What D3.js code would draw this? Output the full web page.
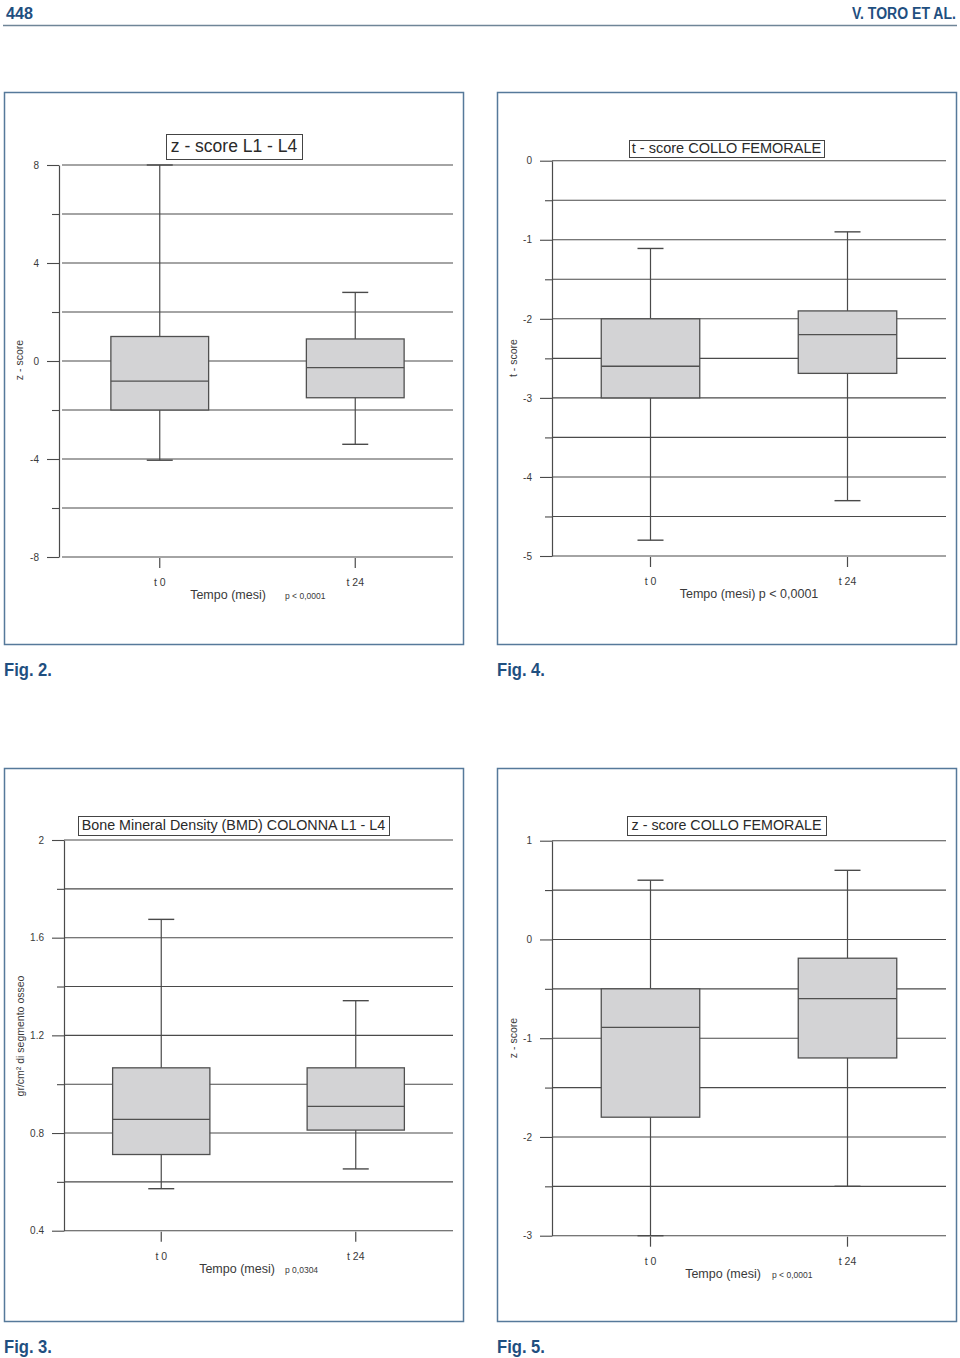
<!DOCTYPE html>
<html>
<head>
<meta charset="utf-8">
<script src="https://cdn.jsdelivr.net/npm/d3@7"></script>
<style>
  html, body { margin: 0; padding: 0; background: #fff; }
  svg { display: block; }
  text { font-family: "Liberation Sans", Arial, sans-serif; }
</style>
</head>
<body>
<svg id="page" width="960" height="1358"></svg>
<script>
// ---------- DATA ----------
const categories = ["t 0", "t 24"];

// [min, q1, median, q3, max] for t0 and t24
const fig2Stats = [[-4.05, -2.0, -0.82, 1.0, 8.0], [-3.4, -1.5, -0.27, 0.9, 2.8]];
const fig4Stats = [[-4.8, -3.0, -2.6, -2.0, -1.11], [-4.3, -2.69, -2.2, -1.9, -0.9]];
const fig3Stats = [[0.572, 0.712, 0.856, 1.067, 1.675], [0.653, 0.812, 0.909, 1.067, 1.342]];
const fig5Stats = [[-3.0, -1.8, -0.89, -0.5, 0.6], [-2.5, -1.2, -0.6, -0.19, 0.7]];

const fig2Ticks = [8, 4, 0, -4, -8];
const fig2Minor = [6, 2, -2, -6];
const fig4Ticks = [0, -1, -2, -3, -4, -5];
const fig4Minor = [-0.5, -1.5, -2.5, -3.5, -4.5];
const fig3Ticks = [2, 1.6, 1.2, 0.8, 0.4];
const fig3Minor = [1.8, 1.4, 1.0, 0.6];
const fig5Ticks = [1, 0, -1, -2, -3];
const fig5Minor = [0.5, -0.5, -1.5, -2.5];

const fig2Domain = [-8, 8];
const fig4Domain = [-5, 0];
const fig3Domain = [0.4, 2];
const fig5Domain = [-3, 1];

const chartTitles = ["z - score L1 - L4", "t - score COLLO FEMORALE",
                     "Bone Mineral Density (BMD) COLONNA L1 - L4", "z - score COLLO FEMORALE"];
const yTitles = ["z - score", "t - score", "gr/cm\u00B2 di segmento osseo", "z - score"];
const xTitle = "Tempo (mesi)";
const pTexts = ["p < 0,0001", "p < 0,0001", "p 0,0304", "p < 0,0001"];
const figLabels = ["Fig. 2.", "Fig. 4.", "Fig. 3.", "Fig. 5."];
const pageNumber = "448";
const runningHead = "V. TORO ET AL.";

// ---------- LAYOUT ----------
const svg = d3.select("#page");
const blue = "#1f4f80";
const lineCol = "#4a4a4a";
const txtCol = "#3a3a3a";

// condensed label: draw text, then squeeze horizontally to a target width
function condensed(str, x, y, size, targetW) {
  const t = svg.append("text").attr("fill", blue)
    .style("font-weight", "bold").style("font-size", size + "px").text(str);
  const w = t.node().getComputedTextLength();
  const s = Math.min(1, targetW / w);
  t.attr("transform", `translate(${x},${y}) scale(${s},1)`);
  return t;
}

// header
condensed(pageNumber, 6, 19, 17, 27);
condensed(runningHead, 852, 19, 17, 104);
svg.append("line").attr("x1", 3).attr("x2", 957).attr("y1", 25.5).attr("y2", 25.5)
  .attr("stroke", "#6f8597").attr("stroke-width", 1.6);

const panels = [
  { stats: fig2Stats, ticks: fig2Ticks, minor: fig2Minor, domain: fig2Domain,
    bx: 4, by: 92, bw: 459, bh: 552,
    axisX: 59, gridX: 62, right: 453, yTop: 165, yBot: 557,
    tb: [166, 302, 134, 159], tfs: 17.5, yTitleX: 20, yTitleY: 360,
    tempoX: 228, pX: 285, pFs: 8.5, pInline: false },
  { stats: fig4Stats, ticks: fig4Ticks, minor: fig4Minor, domain: fig4Domain,
    bx: 497, by: 92, bw: 459, bh: 552,
    axisX: 552, gridX: 552, right: 946, yTop: 160.7, yBot: 556,
    tb: [629, 824, 140, 157], tfs: 14.5, yTitleX: 514, yTitleY: 358,
    tempoX: 749, pX: 0, pFs: 12.5, pInline: true },
  { stats: fig3Stats, ticks: fig3Ticks, minor: fig3Minor, domain: fig3Domain,
    bx: 4, by: 768, bw: 459, bh: 553,
    axisX: 64, gridX: 64, right: 453, yTop: 840, yBot: 1230.7,
    tb: [78, 389, 816, 835], tfs: 14.3, yTitleX: 21, yTitleY: 1036,
    tempoX: 237, pX: 285, pFs: 8.5, pInline: false },
  { stats: fig5Stats, ticks: fig5Ticks, minor: fig5Minor, domain: fig5Domain,
    bx: 497, by: 768, bw: 459, bh: 553,
    axisX: 552, gridX: 552, right: 946, yTop: 840.7, yBot: 1235.7,
    tb: [627, 826, 816, 835], tfs: 14.3, yTitleX: 514, yTitleY: 1038,
    tempoX: 723, pX: 772, pFs: 8.5, pInline: false }
];

panels.forEach((p, i) => {
  const g = svg.append("g");
  // border
  g.append("rect").attr("x", p.bx + 0.5).attr("y", p.by + 0.5).attr("width", p.bw).attr("height", p.bh)
    .attr("fill", "#fff").attr("stroke", "#56799a").attr("stroke-width", 1.5);

  const y = d3.scaleLinear().domain(p.domain).range([p.yBot, p.yTop]);
  const x = d3.scaleBand().domain(categories).range([p.gridX, p.right])
    .paddingInner(0.5).paddingOuter(0.25);

  // gridlines (major + minor)
  const gridVals = p.ticks.concat(p.minor);
  g.append("g").selectAll("line").data(gridVals).join("line")
    .attr("x1", p.gridX).attr("x2", p.right)
    .attr("y1", d => y(d)).attr("y2", d => y(d))
    .attr("stroke", lineCol).attr("stroke-width", 1.1);

  // y axis major
  const ya = g.append("g").attr("transform", `translate(${p.axisX},0)`)
    .call(d3.axisLeft(y).tickValues(p.ticks).tickSize(12).tickSizeOuter(0).tickPadding(8)
      .tickFormat(d => String(d)));
  ya.select(".domain").attr("stroke", lineCol).attr("stroke-width", 1.2);
  ya.selectAll(".tick line").attr("stroke", lineCol).attr("stroke-width", 1.1);
  ya.selectAll(".tick text").attr("fill", txtCol).style("font-size", "10px")
    .style("font-family", "'Liberation Sans', Arial, sans-serif");

  // y axis minor ticks
  const ym = g.append("g").attr("transform", `translate(${p.axisX},0)`)
    .call(d3.axisLeft(y).tickValues(p.minor).tickSize(7).tickSizeOuter(0).tickFormat(""));
  ym.select(".domain").remove();
  ym.selectAll(".tick line").attr("stroke", lineCol).attr("stroke-width", 1.1);

  // x axis ticks
  const xa = g.append("g").attr("transform", `translate(0,${p.yBot + 1})`)
    .call(d3.axisBottom(x).tickSize(10).tickSizeOuter(0).tickPadding(10.5));
  xa.select(".domain").remove();
  xa.selectAll(".tick line").attr("stroke", lineCol).attr("stroke-width", 1.2);
  xa.selectAll(".tick text").attr("fill", txtCol).style("font-size", "10.5px")
    .style("font-family", "'Liberation Sans', Arial, sans-serif");

  // boxplots
  const bw = x.bandwidth();
  const capW = 26;
  const boxes = g.append("g").selectAll("g").data(p.stats).join("g");
  boxes.each(function (s, j) {
    const b = d3.select(this);
    const cx = x(categories[j]) + bw / 2;
    b.append("line").attr("x1", cx).attr("x2", cx).attr("y1", y(s[0])).attr("y2", y(s[4]))
      .attr("stroke", lineCol).attr("stroke-width", 1.2);
    [s[0], s[4]].forEach(v => {
      b.append("line").attr("x1", cx - capW / 2).attr("x2", cx + capW / 2)
        .attr("y1", y(v)).attr("y2", y(v)).attr("stroke", lineCol).attr("stroke-width", 1.4);
    });
    b.append("rect").attr("x", x(categories[j])).attr("width", bw)
      .attr("y", y(s[3])).attr("height", y(s[1]) - y(s[3]))
      .attr("fill", "#d3d3d5").attr("stroke", "#505050").attr("stroke-width", 1.3);
    b.append("line").attr("x1", x(categories[j])).attr("x2", x(categories[j]) + bw)
      .attr("y1", y(s[2])).attr("y2", y(s[2])).attr("stroke", "#505050").attr("stroke-width", 1.3);
  });

  // chart title box
  const [x1, x2, y1, y2] = p.tb;
  g.append("rect").attr("x", x1 + 0.5).attr("y", y1 + 0.5).attr("width", x2 - x1).attr("height", y2 - y1)
    .attr("fill", "#fff").attr("stroke", "#444").attr("stroke-width", 1);
  g.append("text").attr("x", (x1 + x2) / 2).attr("y", (y1 + y2) / 2 + 1)
    .attr("text-anchor", "middle").attr("dominant-baseline", "middle")
    .attr("fill", "#2a2a2a").style("font-size", p.tfs + "px").text(chartTitles[i]);

  // y title
  g.append("text").attr("transform", `translate(${p.yTitleX},${p.yTitleY}) rotate(-90)`)
    .attr("text-anchor", "middle").attr("dominant-baseline", "middle")
    .attr("fill", txtCol).style("font-size", "10.5px").text(yTitles[i]);

  // x title + p value
  const ty = p.yBot + 39;
  if (p.pInline) {
    g.append("text").attr("x", p.tempoX).attr("y", ty).attr("text-anchor", "middle")
      .attr("dominant-baseline", "middle").attr("fill", txtCol).style("font-size", "12.5px")
      .text(xTitle + " " + pTexts[i]);
  } else {
    g.append("text").attr("x", p.tempoX).attr("y", ty).attr("text-anchor", "middle")
      .attr("dominant-baseline", "middle").attr("fill", txtCol).style("font-size", "12.5px")
      .text(xTitle);
    g.append("text").attr("x", p.pX).attr("y", ty + 1).attr("dominant-baseline", "middle")
      .attr("fill", txtCol).style("font-size", p.pFs + "px").text(pTexts[i]);
  }

  // figure label
  condensed(figLabels[i], p.bx, p.by + p.bh + 32, 18, 48);
});
</script>
</body>
</html>
